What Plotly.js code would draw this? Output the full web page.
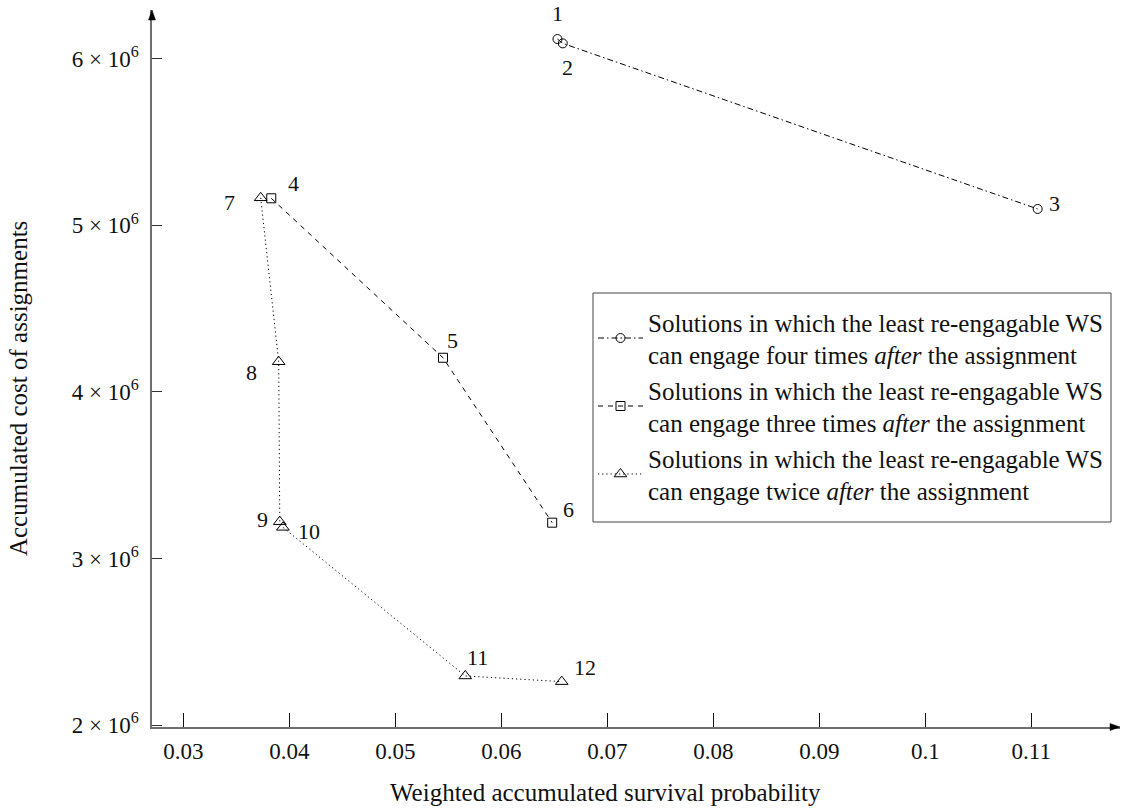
<!DOCTYPE html>
<html>
<head>
<meta charset="utf-8">
<script src="https://cdn.plot.ly/plotly-3.0.1.min.js"></script>
<style>html,body{margin:0;padding:0;background:#fff;}#chart{width:1129px;height:809px;}</style>
</head>
<body>
<div id="chart"></div>
<script>
// ---- data ----
const fourX = [0.0653, 0.0658, 0.1106];
const fourY = [6118000, 6092000, 5098000];
const fourLabels = ['1', '2', '3'];

const threeX = [0.0383, 0.0545, 0.0648];
const threeY = [5162000, 4205000, 3215000];
const threeLabels = ['4', '5', '6'];

const twiceX = [0.0373, 0.0390, 0.0391, 0.0394, 0.0566, 0.0657];
const twiceY = [5165000, 4181000, 3221000, 3187000, 2295000, 2261000];
const twiceLabels = ['7', '8', '9', '10', '11', '12'];

const seriesNames = [
  'Solutions in which the least re-engagable WS<br>can engage four times <i>after</i> the assignment',
  'Solutions in which the least re-engagable WS<br>can engage three times <i>after</i> the assignment',
  'Solutions in which the least re-engagable WS<br>can engage twice <i>after</i> the assignment'
];

const xTickVals = [0.03, 0.04, 0.05, 0.06, 0.07, 0.08, 0.09, 0.1, 0.11];
const xTickText = ['0.03', '0.04', '0.05', '0.06', '0.07', '0.08', '0.09', '0.1', '0.11'];
const yTickVals = [2000000, 3000000, 4000000, 5000000, 6000000];
const yTickText = ['2 × 10<sup>6</sup>', '3 × 10<sup>6</sup>', '4 × 10<sup>6</sup>', '5 × 10<sup>6</sup>', '6 × 10<sup>6</sup>'];

const xTitle = 'Weighted accumulated survival probability';
const yTitle = 'Accumulated cost of assignments';

// ---- label offsets (style, pixels: right, up) ----
const fourOffsets = [[0, 26], [5, -24], [17, 5]];
const threeOffsets = [[22, 15], [9, 17], [16, 13]];
const twiceOffsets = [[-31, -5], [-27, -11], [-17, 2], [26, -4], [12, 18], [23, 14]];

const FONT = '"Liberation Serif", "Times New Roman", serif';
const INK = '#111';

function trace(x, y, name, symbol, dash, size) {
  return {
    type: 'scatter', mode: 'lines+markers', x: x, y: y, name: name,
    line: {color: '#000', width: 1, dash: dash},
    marker: {symbol: symbol, size: size, color: '#000', line: {color: '#000', width: 1}},
    hoverinfo: 'skip'
  };
}

const data = [
  trace(fourX, fourY, seriesNames[0], 'circle-open', '6px,3px,1.5px,3px', 9),
  trace(threeX, threeY, seriesNames[1], 'square-open', '5px,5px', 9),
  trace(twiceX, twiceY, seriesNames[2], 'triangle-up-open', '1.2px,3px', 11)
];

const annotations = [];
function addLabels(xs, ys, labels, offs) {
  for (let i = 0; i < xs.length; i++) {
    annotations.push({
      x: xs[i], y: ys[i], xref: 'x', yref: 'y', text: labels[i], showarrow: false,
      xshift: offs[i][0], yshift: offs[i][1],
      font: {family: FONT, size: 22, color: INK}
    });
  }
}
addLabels(fourX, fourY, fourLabels, fourOffsets);
addLabels(threeX, threeY, threeLabels, threeOffsets);
addLabels(twiceX, twiceY, twiceLabels, twiceOffsets);

annotations.push({
  xref: 'paper', yref: 'paper', x: 0.469, y: -0.092, text: xTitle, showarrow: false,
  xanchor: 'center', yanchor: 'middle', font: {family: FONT, size: 25, color: INK}
});
annotations.push({
  xref: 'paper', yref: 'paper', x: -0.1384, y: 0.4714, text: yTitle, showarrow: false,
  textangle: -90, xanchor: 'center', yanchor: 'middle', font: {family: FONT, size: 25, color: INK}
});

// plot area: 968 x 717 px, origin at pixel (152, 727)
const PW = 968, PH = 717, L0 = 152, B0 = 727;
const px = v => (v - L0) / PW;
const py = v => (B0 - v) / PH;
const shapes = [
  {type: 'path', xref: 'paper', yref: 'paper',
   path: `M 0 1 L ${-3.5/PW} ${1-10/PH} L ${3.5/PW} ${1-10/PH} Z`,
   fillcolor: '#000', line: {color: '#000', width: 0.5}},
  {type: 'path', xref: 'paper', yref: 'paper',
   path: `M 1 0 L ${1-10/PW} ${3.5/PH} L ${1-10/PW} ${-3.5/PH} Z`,
   fillcolor: '#000', line: {color: '#000', width: 0.5}},
  // legend frame
  {type: 'rect', xref: 'paper', yref: 'paper', layer: 'above',
   x0: px(593), x1: px(1111), y0: py(522), y1: py(293),
   fillcolor: '#fff', line: {color: '#444', width: 1}}
];

const layout = {
  width: 1129, height: 809,
  margin: {l: 152, r: 9, t: 10, b: 82},
  paper_bgcolor: '#fff', plot_bgcolor: '#fff',
  showlegend: true,
  font: {family: FONT, size: 22, color: INK},
  xaxis: {
    range: [0.027047, 0.118368], showgrid: false, zeroline: false,
    showline: true, linecolor: '#6e6e6e', linewidth: 1.6,
    ticks: 'inside', ticklen: 14, tickwidth: 1, tickcolor: '#111',
    tickvals: xTickVals, ticktext: xTickText, ticklabelstandoff: 3,
    tickfont: {family: FONT, size: 23, color: INK}
  },
  yaxis: {
    range: [1988600, 6292300], showgrid: false, zeroline: false,
    showline: true, linecolor: '#6e6e6e', linewidth: 1.6,
    ticks: 'inside', ticklen: 10, tickwidth: 1, tickcolor: '#333',
    tickvals: yTickVals, ticktext: yTickText, ticklabelstandoff: 7,
    tickfont: {family: FONT, size: 23, color: INK}
  },
  legend: {
    x: px(593), y: py(299), xanchor: 'left', yanchor: 'top',
    bgcolor: 'rgba(0,0,0,0)', borderwidth: 0,
    font: {family: FONT, size: 25, color: INK},
    tracegroupgap: 0, itemwidth: 45, valign: 'middle'
  },
  annotations: annotations,
  shapes: shapes
};

Plotly.newPlot('chart', data, layout, {staticPlot: true, displayModeBar: false});
</script>
</body>
</html>
